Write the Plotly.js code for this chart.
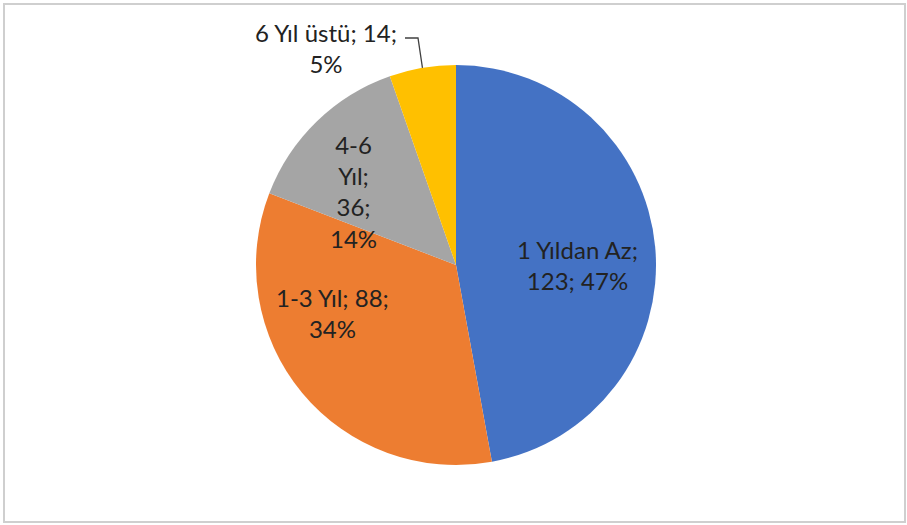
<!DOCTYPE html>
<html>
<head>
<meta charset="utf-8">
<script src="https://cdn.plot.ly/plotly-3.0.1.min.js"></script>
<style>
html,body{margin:0;padding:0;background:#fff;}
#chart{width:907px;height:525px;}
</style>
</head>
<body>
<div id="chart"></div>
<script>
// Data
const categories = ["1 Yıldan Az", "1-3 Yıl", "4-6 Yıl", "6 Yıl üstü"];
const counts = [123, 88, 36, 14];
const percents = ["47%", "34%", "14%", "5%"];
const sliceColors = ["#4472C4", "#ED7D31", "#A5A5A5", "#FFC000"];
// Label text split as in the reference
const labelLines = [
  "1 Yıldan Az;<br>123; 47%",
  "1-3 Yıl; 88;<br>34%",
  "4-6<br>Yıl;<br>36;<br>14%",
  "6 Yıl üstü; 14;<br>5%"
];

const W = 907, H = 525;
// Pie geometry (pixels)
const cx = 456, cy = 265, R = 200;
const dom = {x: [(cx - R) / W, (cx + R) / W], y: [(H - cy - R) / H, (H - cy + R) / H]};

// label placement (pixel centres of label blocks)
const labelPos = [[577, 265], [332, 313], [353, 191], [326, 48]];

const px = x => x / W, py = y => 1 - y / H;

const total = counts.reduce((a, b) => a + b, 0);
let cum = 0;
const mids = counts.map(v => { const m = (cum + v / 2) / total; cum += v; return m * 2 * Math.PI; });

const annotations = labelLines.map((t, i) => ({
  text: t, xref: 'paper', yref: 'paper',
  x: px(labelPos[i][0]), y: py(labelPos[i][1]),
  xanchor: 'center', yanchor: 'middle', showarrow: false, align: 'center',
  font: {family: 'Lato, "Open Sans", sans-serif', size: 24, color: '#222222'}
}));

// leader line for the small slice: from the label to the slice's outer edge mid-point
const i4 = 3;
const ex = cx + R * Math.sin(mids[i4]), ey = cy - R * Math.cos(mids[i4]);
const shapes = [
  {type: 'rect', xref: 'paper', yref: 'paper', x0: px(4), x1: px(905), y0: py(522), y1: py(4),
   line: {color: '#CFCFCF', width: 2}},
  {type: 'path', xref: 'paper', yref: 'paper',
   path: `M ${px(405)} ${py(38)} L ${px(418)} ${py(38)} L ${px(ex)} ${py(ey)}`,
   line: {color: '#404040', width: 1.3}}
];

Plotly.newPlot('chart', [{
  type: 'pie',
  labels: categories,
  values: counts,
  sort: false,
  direction: 'clockwise',
  rotation: 0,
  marker: {colors: sliceColors, line: {color: '#FFFFFF', width: 0}},
  textinfo: 'none',
  hoverinfo: 'label+value+percent',
  showlegend: false,
  domain: dom
}], {
  width: W, height: H,
  margin: {l: 0, r: 0, t: 0, b: 0},
  paper_bgcolor: '#FFFFFF',
  showlegend: false,
  annotations: annotations,
  shapes: shapes
}, {displayModeBar: false, staticPlot: true});
</script>
</body>
</html>
